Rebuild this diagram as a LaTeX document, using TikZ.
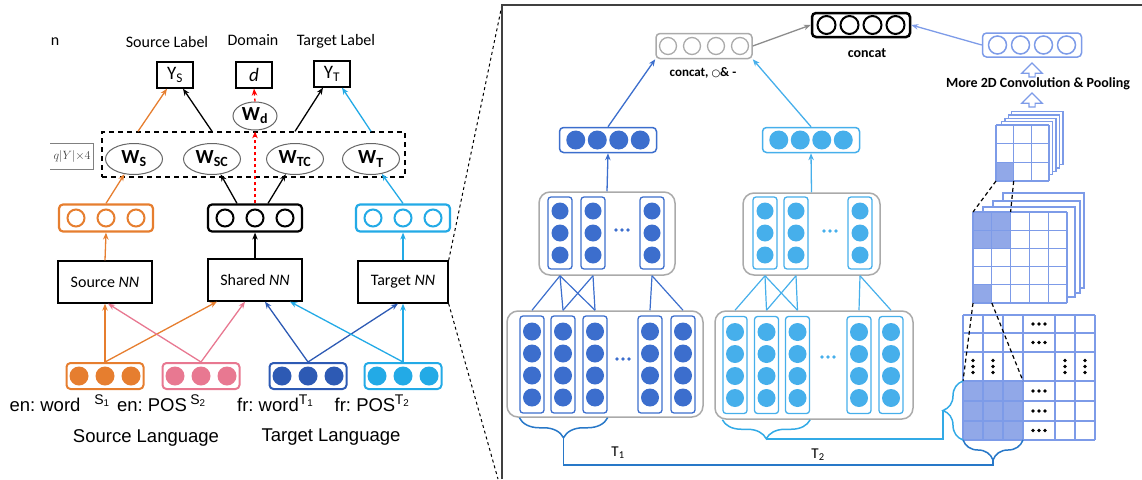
\documentclass[tikz,border=0pt]{standalone}
\usepackage{fontspec}
\setmainfont{Carlito}
\newfontfamily\arialfont{Liberation Sans}
\newfontfamily\symfont{DejaVu Sans}
\usetikzlibrary{arrows.meta,shapes,positioning,calc,decorations.pathreplacing}
\frenchspacing

\definecolor{srcorange}{RGB}{230,126,47}
\definecolor{pospink}{RGB}{232,120,145}
\definecolor{trgblue}{RGB}{45,90,180}
\definecolor{trgcyan}{RGB}{35,170,230}
\definecolor{mapblue}{RGB}{60,110,205}
\definecolor{mapcyan}{RGB}{70,175,235}
\definecolor{gridblue}{RGB}{125,155,232}
\definecolor{gridfill}{RGB}{145,168,232}
\definecolor{boxgray}{RGB}{170,170,170}
\definecolor{braceblue}{RGB}{40,120,200}
\definecolor{bracecyan}{RGB}{50,170,230}

\begin{document}
\begin{tikzpicture}[x=1pt, y=-1pt,
    arr/.style={-{Stealth[length=7pt,width=5.5pt]}, line width=1.3pt},
    lblbox/.style={draw, line width=1.3pt, minimum width=36pt, minimum height=26pt, inner sep=0pt, font=\fontsize{19}{19}\selectfont},
    wnode/.style={draw=black!60, line width=1pt, ellipse, minimum width=57pt, minimum height=31pt, inner sep=0pt, font=\bfseries\fontsize{20}{20}\selectfont},
    nnbox/.style={draw, line width=1.3pt, minimum width=94pt, minimum height=42pt, inner sep=0pt, font=\fontsize{16}{16}\selectfont},
    hidvec/.style={draw, rounded corners=4pt, line width=2.2pt, minimum width=94pt, minimum height=27pt, inner sep=0pt},
    invec/.style={draw, rounded corners=4pt, line width=2pt, minimum width=77pt, minimum height=26pt, inner sep=0pt},
    mapvec/.style={draw, rounded corners=4pt, line width=1.5pt, minimum width=97pt, minimum height=25pt, inner sep=0pt},
    grpbox/.style={draw=boxgray, rounded corners=11pt, line width=1.5pt, inner sep=0pt},
    colbox/.style={draw, rounded corners=3pt, line width=1.3pt, minimum width=24pt, inner sep=0pt},
    toplbl/.style={font=\fontsize{16}{16}\selectfont},
    langlbl/.style={font=\arialfont\fontsize{18.5}{18.5}\selectfont},
    sublbl/.style={font=\arialfont\fontsize{14}{14}\selectfont},
    boldlbl/.style={font=\bfseries\fontsize{14}{14}\selectfont},
    hollowup/.style={single arrow, draw=gridblue, line width=1.2pt, shape border rotate=90, minimum height=14pt, minimum width=12pt, inner sep=2.5pt}]
    \useasboundingbox (0,0) rectangle (1142,479);

    % Left panel: labels and outputs
    \node[toplbl] (cutlbl) at (55,42) {n};
    \node[toplbl] (srclbl) at (167,42) {Source Label};
    \node[toplbl] (domlbl) at (253,40) {Domain};
    \node[toplbl] (trglbl) at (336,41) {Target Label};

    \node[lblbox] (ys) at (175,75) {Y\textsubscript{S}};
    \node[lblbox] (d) at (254,75) {\itshape d};
    \node[lblbox] (yt) at (332,74) {Y\textsubscript{T}};
    \node[wnode, minimum width=44pt, minimum height=28pt] (wd) at (255,116) {W\textsubscript{d}};

    % Weight layer
    \draw[black!50, line width=1pt] (50,143) -- (93,143) -- (93,169) -- (50,169);
    \node[font=\fontsize{12}{12}\selectfont, text=black!75] (qlbl) at (72,156) {$q|Y|{\times}4$};
    \node[draw, dash pattern=on 5pt off 4pt, line width=1.3pt, minimum width=303pt, minimum height=45pt] (wbox) at (253.5,154.5) {};
    \node[wnode] (ws) at (134,159) {W\textsubscript{S}};
    \node[wnode] (wsc) at (212,159) {W\textsubscript{SC}};
    \node[wnode] (wtc) at (295,159) {W\textsubscript{TC}};
    \node[wnode] (wt) at (371,159) {W\textsubscript{T}};

    % Hidden vectors
    \foreach \name/\cx/\col in {srchid/106/srcorange, sharedhid/255/black, trghid/403/trgcyan} {
        \node[hidvec, draw=\col] (\name) at (\cx,218) {};
        \foreach \dx in {-30,0,30}
            \draw[\col, line width=2pt] ([xshift=\dx pt]\name.center) circle (8.5pt);
    }

    % Networks
    \node[nnbox] (srcnn) at (105,282) {Source \textit{NN}};
    \node[nnbox] (sharednn) at (255,280) {Shared \textit{NN}};
    \node[nnbox, minimum width=90pt] (trgnn) at (403,282) {Target \textit{NN}};

    % Input vectors
    \foreach \name/\cx/\col in {srcin/105/srcorange, posin/201/pospink, wordin/308/trgblue, trgposin/403/trgcyan} {
        \node[invec, draw=\col] (\name) at (\cx,376) {};
        \foreach \dx in {-26,0,26}
            \fill[\col] ([xshift=\dx pt]\name.center) circle (9.5pt);
    }

    % Input labels
    \node[langlbl] (enword) at (45,405) {en: word};
    \node[sublbl] (s1lbl) at (102,401) {S\textsubscript{1}};
    \node[langlbl] (enpos) at (152,405) {en: POS};
    \node[sublbl] (s2lbl) at (198,401) {S\textsubscript{2}};
    \node[langlbl] (frword) at (268,405) {fr: word};
    \node[sublbl] (t1sub) at (306,401) {T\textsubscript{1}};
    \node[langlbl] (frpos) at (365,405) {fr: POS};
    \node[sublbl] (t2sub) at (402,401) {T\textsubscript{2}};
    \node[langlbl] (srclang) at (146,438) {Source Language};
    \node[langlbl] (trglang) at (331,437) {Target Language};

    % Arrows: inputs to networks
    \draw[arr, srcorange] (srcin.north) -- (srcnn.south);
    \draw[arr, srcorange] (srcin.north) -- ([xshift=-38pt]sharednn.south);
    \draw[arr, pospink] (posin.north) -- ([xshift=3pt]srcnn.south);
    \draw[arr, pospink] (posin.north) -- ([xshift=-10pt]sharednn.south);
    \draw[arr, trgblue] (wordin.north) -- ([xshift=10pt]sharednn.south);
    \draw[arr, trgblue] (wordin.north) -- ([xshift=-5pt]trgnn.south);
    \draw[arr, trgcyan] (trgposin.north) -- ([xshift=35pt]sharednn.south);
    \draw[arr, trgcyan] (trgposin.north) -- (trgnn.south);

    % Arrows: networks to hidden vectors
    \draw[arr, srcorange] (srcnn.north) -- (srchid.south);
    \draw[arr] (sharednn.north) -- (sharedhid.south);
    \draw[arr, trgcyan] (trgnn.north) -- (trghid.south);

    % Arrows: hidden vectors to weights
    \draw[arr, srcorange] (srchid.north) -- (ws);
    \draw[arr] ([xshift=-18pt]sharedhid.north) -- (wsc);
    \draw[arr] ([xshift=13pt]sharedhid.north) -- (wtc);
    \draw[arr, trgcyan] (trghid.north) -- (wt);
    \draw[arr, red, dashed] (sharedhid.north) -- (sharedhid.north |- wbox.north);

    % Arrows: weights to outputs
    \draw[arr, srcorange] ([xshift=4pt]ws.north |- wbox.north) -- ([xshift=-8pt]ys.south);
    \draw[arr] (wsc.north |- wbox.north) -- ([xshift=8pt]ys.south);
    \draw[arr, red, dashed] (wd.north) -- (d.south);
    \draw[arr] (wtc.north |- wbox.north) -- ([xshift=-9pt]yt.south);
    \draw[arr, trgcyan] (wt.north |- wbox.north) -- ([xshift=10pt]yt.south);

    % Zoom lines and right panel frame
    \coordinate (paneltl) at (502,5);
    \coordinate (panelbl) at (498,479);
    \draw[dashed, line width=1pt] (trgnn.north east) -- (paneltl);
    \draw[dashed, line width=1pt] (trgnn.south east) -- (panelbl);
    \draw[black!75, line width=1.5pt] (502,479) -- (502,5) -- (1142,5);

    % Top vectors
    \node[mapvec, draw=boxgray, minimum width=96pt] (cmpvec) at (704,46) {};
    \foreach \dx in {-36,-12,12,36}
        \draw[boxgray, line width=1.3pt] ([xshift=\dx pt]cmpvec.center) circle (8.5pt);
    \node[boldlbl, font=\bfseries\fontsize{13}{13}\selectfont] (cmplbl) at (703,73) {concat, {\symfont\fontsize{10}{10}\selectfont ○}\& -};

    \node[mapvec, draw=black, line width=2.5pt, minimum width=98pt, minimum height=24pt] (catvec) at (861,25) {};
    \foreach \dx in {-34.5,-11.5,11.5,34.5}
        \draw[black, line width=2pt] ([xshift=\dx pt]catvec.center) circle (9pt);
    \node[boldlbl] (catlbl) at (867,53) {concat};

    \node[mapvec, draw=gridblue, minimum width=99pt, minimum height=24pt] (convvec) at (1032,45) {};
    \foreach \dx in {-34.5,-11.5,11.5,34.5}
        \draw[gridblue, line width=1.5pt] ([xshift=\dx pt]convvec.center) circle (9pt);
    \node[hollowup] (upa) at (1032,71.5) {};
    \node[boldlbl] (convlbl) at (1038,84) {More 2D Convolution \& Pooling};
    \node[hollowup] (upb) at (1032,101.5) {};

    \draw[arr, black!45] (cmpvec.east) -- (catvec.west);
    \draw[arr, gridblue] (convvec.west) -- (catvec.east);

    % Sentence vectors
    \node[mapvec, draw=mapblue] (t1vec) at (608,140) {};
    \node[mapvec, draw=mapcyan] (t2vec) at (811,140) {};
    \foreach \dx in {-32.25,-10.75,10.75,32.25} {
        \fill[mapblue] ([xshift=\dx pt]t1vec.center) circle (9.5pt);
        \fill[mapcyan] ([xshift=\dx pt]t2vec.center) circle (9.5pt);
    }
    \draw[arr, mapblue] (t1vec.north) -- (cmpvec.south west);
    \draw[arr, mapcyan] (t2vec.north) -- (cmpvec.south east);

    % Upper groups
    \node[grpbox, minimum width=136pt, minimum height=83pt] (t1grp) at (607,233.5) {};
    \node[grpbox, minimum width=137pt, minimum height=82pt] (t2grp) at (811.5,234) {};
    \foreach \name/\cx/\col in {u1a/560/mapblue, u1b/593/mapblue, u1c/652/mapblue, u2a/765/mapcyan, u2b/796/mapcyan, u2c/860/mapcyan} {
        \node[colbox, draw=\col, minimum height=72pt] (\name) at (\cx,233) {};
        \foreach \dy in {-22,0,22}
            \fill[\col] ([yshift=\dy pt]\name.center) circle (8.5pt);
    }
    \draw[arr, mapblue] (t1grp.north) -- (t1vec.south);
    \draw[arr, mapcyan] (t2grp.north) -- (t2vec.south);

    % Lower groups
    \node[grpbox, minimum width=196pt, minimum height=106pt] (l1grp) at (605,364) {};
    \node[grpbox, minimum width=198pt, minimum height=108pt] (l2grp) at (814,365) {};
    \foreach \name/\cx/\cy/\col in {l1a/532/364.5/mapblue, l1b/563/364.5/mapblue, l1c/595/364.5/mapblue, l1d/650/364.5/mapblue, l1e/683/364.5/mapblue,
        l2a/735/365/mapcyan, l2b/766.5/365/mapcyan, l2c/797.5/365/mapcyan, l2d/859/365/mapcyan, l2e/891/365/mapcyan} {
        \node[colbox, draw=\col, minimum height=97pt] (\name) at (\cx,\cy) {};
        \foreach \dy in {-33,-11,11,33}
            \fill[\col] ([yshift=\dy pt]\name.center) circle (9pt);
    }

    % Dots between columns
    \coordinate (u1dots) at (622,230);
    \coordinate (u2dots) at (830,231);
    \coordinate (l1dots) at (623,359);
    \coordinate (l2dots) at (828,357);
    \foreach \pt/\col in {u1dots/mapblue, l1dots/mapblue, u2dots/mapcyan, l2dots/mapcyan}
        \foreach \dx in {-6,0,6}
            \fill[\col] ([xshift=\dx pt]\pt) circle (1.9pt);

    % Convolution links
    \foreach \g/\col in {1/mapblue, 2/mapcyan} {
        \foreach \up/\low in {a/a, a/b, a/c, b/b, b/c, c/d, c/e}
            \draw[\col, line width=1.2pt] (u\g\up |- t\g grp.south) -- (l\g\low |- l\g grp.north);
    }

    % Feature maps: top stack
    \foreach \k in {4,3,2,1}
        \draw[gridblue, fill=white, line width=1.3pt] (998.5+3.3*\k, 125-3.3*\k) rectangle (1049+3.5*\k, 178-3.3*\k);
    \fill[white] (996,125) rectangle (1049,181);
    \fill[gridfill] (996,163.33) rectangle (1013.67,181);
    \foreach \i in {0,...,3} {
        \draw[gridblue, line width=1.3pt] (996+17.67*\i,125) -- (996+17.67*\i,181);
        \draw[gridblue, line width=1.3pt] (996,125+18.67*\i) -- (1049,125+18.67*\i);
    }

    % Feature maps: middle stack
    \foreach \l/\t/\r/\b in {1003/193/1084/288, 993/201/1080/293, 983/207/1075/297}
        \draw[gridblue, fill=white, line width=1.3pt] (\l,\t) rectangle (\r,\b);
    \fill[white] (973,212) rectangle (1067,303);
    \fill[gridfill] (973,212) rectangle (1010.6,248.4);
    \fill[gridfill] (973,284.8) rectangle (991.8,303);
    \foreach \i in {0,...,5} {
        \draw[gridblue, line width=1.3pt] (973+18.8*\i,212) -- (973+18.8*\i,303);
        \draw[gridblue, line width=1.3pt] (973,212+18.2*\i) -- (1067,212+18.2*\i);
    }

    % Input matrix
    \fill[gridfill] (963,381) rectangle (1023,440);
    \foreach \x in {963,983,1003,1023,1055,1075,1095}
        \draw[gridblue, line width=1.5pt] (\x,315) -- (\x,440);
    \foreach \y in {315,333,352,381,401,421,440}
        \draw[gridblue, line width=1.5pt] (963,\y) -- (1095,\y);
    \foreach \y in {324,342.5,391,411,430.5}
        \foreach \dx in {-6,0,6}
            \fill (1039+\dx,\y) circle (1.8pt);
    \foreach \x in {973,993,1065,1085}
        \foreach \dy in {-6,0,6}
            \fill (\x,366.5+\dy) circle (1.8pt);

    % Receptive field lines
    \coordinate (tsa) at (996,181);
    \coordinate (tsb) at (1013.67,181);
    \coordinate (msa) at (973,212);
    \coordinate (msb) at (1010.6,212);
    \coordinate (msc) at (973,303);
    \coordinate (msd) at (991.8,303);
    \coordinate (bsa) at (963,381);
    \coordinate (bsb) at (1023,381);
    \draw[dash pattern=on 4pt off 3pt, line width=1.2pt] (tsa) -- (msa);
    \draw[dash pattern=on 4pt off 3pt, line width=1.2pt] (tsb) -- (msb);
    \draw[dash pattern=on 4pt off 3pt, line width=1.2pt] (msc) -- (bsa);
    \draw[dash pattern=on 4pt off 3pt, line width=1.2pt] (msd) -- (bsb);

    % Braces and links
    \draw[braceblue, line width=1.5pt, decorate, decoration={brace, mirror, amplitude=20pt}] (l1a.west |- l1grp.south) -- (l1c.east |- l1grp.south);
    \draw[braceblue, line width=1.5pt, decorate, decoration={brace, mirror, amplitude=20pt}] (963,440) -- (1023,440);
    \draw[bracecyan, line width=1.5pt, decorate, decoration={brace, mirror, amplitude=19pt}] (l2a.west |- l2grp.south) -- (l2c.east |- l2grp.south);
    \draw[bracecyan, line width=1.5pt, decorate, decoration={brace, amplitude=20pt}] (963,440) -- (963,381);
    \coordinate (t1tip) at ($(l1a.west |- l1grp.south)!0.5!(l1c.east |- l1grp.south) + (0,20)$);
    \coordinate (t2tip) at ($(l2a.west |- l2grp.south)!0.5!(l2c.east |- l2grp.south) + (0,19)$);
    \coordinate (g3tip) at (993,460);
    \coordinate (g4tip) at (943,410.5);
    \coordinate (t1bus) at (0,465);
    \draw[braceblue, line width=1.5pt] (t1tip) -- (t1tip |- t1bus) -| (g3tip);
    \draw[bracecyan, line width=1.5pt] (t2tip) -| (g4tip);
    \node[font=\fontsize{15}{15}\selectfont] (t1lbl) at (618,453) {T\textsubscript{1}};
    \node[font=\fontsize{15}{15}\selectfont] (t2lbl) at (818,455) {T\textsubscript{2}};
\end{tikzpicture}
\end{document}
